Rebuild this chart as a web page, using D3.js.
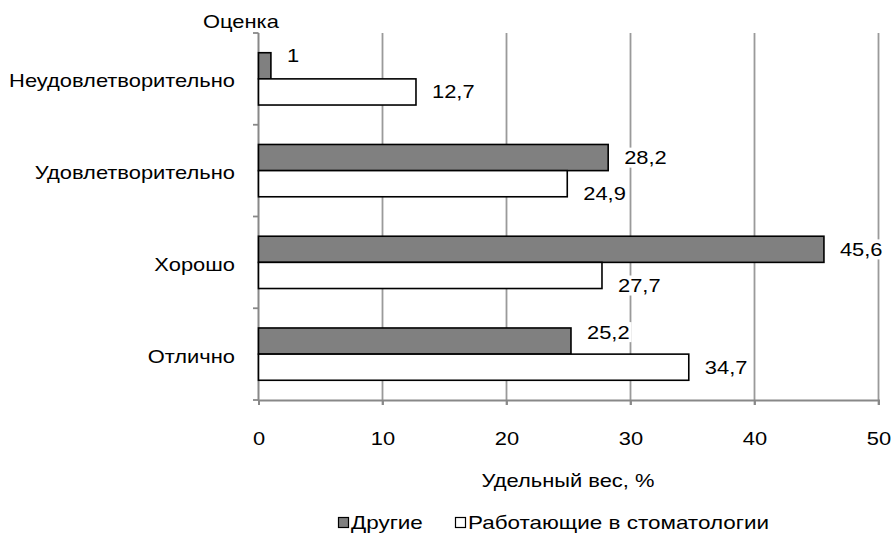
<!DOCTYPE html>
<html><head><meta charset="utf-8">
<script src="https://cdn.jsdelivr.net/npm/d3@7"></script>
<style>body{margin:0;background:#fff}svg{display:block}text{font-family:"Liberation Sans",Arial,sans-serif;fill:#000}</style>
</head><body><svg id="c" width="893" height="543"></svg>
<script>
const categories = ["Неудовлетворительно","Удовлетворительно","Хорошо","Отлично"];
const seriesNames = ["Другие","Работающие в стоматологии"];
const others = [1, 28.2, 45.6, 25.2];
const dental = [12.7, 24.9, 27.7, 34.7];
const xTicks = [0,10,20,30,40,50];
const labelShift = [[-10,0],[0,10],[0,10],[-9,0]]; // label nudges (px) per category [others, dental]

const svg = d3.select("#c");
const FS = 18.4, SX = 1.19;
const x = d3.scaleLinear().domain([0,50]).range([258.5,878.5]);
const y = d3.scaleBand().domain(categories).range([33,400]).paddingInner(0.43).paddingOuter(0.215);
const ySub = d3.scaleBand().domain([0,1]).range([0,y.bandwidth()]);
const fills = ["#808080","#ffffff"];

function txt(sel, px, py, sx){
  return sel.append("text").attr("transform",(d,i)=>`translate(${typeof px==="function"?px(d,i):px},${typeof py==="function"?py(d,i):py}) scale(${sx||SX},1)`)
    .attr("dy","0.35em").style("font-size",FS+"px");
}

// gridlines
svg.append("g").selectAll("line").data(xTicks.slice(1)).join("line")
  .attr("x1",d=>x(d)).attr("x2",d=>x(d)).attr("y1",33).attr("y2",405)
  .attr("stroke","#9a9a9a").attr("stroke-width",1.8);

// x axis
const gx = svg.append("g").attr("transform","translate(0,400)")
  .call(d3.axisBottom(x).tickValues(xTicks).tickSize(5).tickPadding(27).tickFormat(d3.format("d")));
gx.select(".domain").attr("stroke","#888").attr("stroke-width",2);
gx.selectAll(".tick line").attr("stroke","#888").attr("stroke-width",1.8);
gx.selectAll("text").style("font-size",FS+"px").attr("font-family","Liberation Sans, Arial, sans-serif")
  .attr("fill","#000").attr("transform",`scale(${SX},1)`);

// y axis
const gy = svg.append("g");
gy.append("line").attr("x1",258.5).attr("x2",258.5).attr("y1",33).attr("y2",401).attr("stroke","#888").attr("stroke-width",2);
const ticksY = d3.range(5).map(i=>d3.scaleLinear().domain([0,4]).range([33,400])(i));
gy.selectAll(".t").data(ticksY).join("line").attr("x1",253).attr("x2",258.5)
  .attr("y1",d=>d).attr("y2",d=>d).attr("stroke","#888").attr("stroke-width",1.8);
txt(gy.selectAll("g.cl").data(categories).join("g").attr("class","cl"), 235, d=>y(d)+y.bandwidth()/2+2)
  .attr("text-anchor","end").text(d=>d);

// bars
const data = [];
categories.forEach((c,i)=>{
  data.push({c,i,s:0,v:others[i]});
  data.push({c,i,s:1,v:dental[i]});
});
svg.append("g").selectAll("rect").data(data).join("rect")
  .attr("x",x(0)).attr("y",d=>y(d.c)+ySub(d.s))
  .attr("width",d=>x(d.v)-x(0)).attr("height",ySub.bandwidth())
  .attr("fill",d=>fills[d.s]).attr("stroke","#000").attr("stroke-width",1.6);

// value labels with white background
const fmt = v=>String(v).replace(".",",");
const lg = svg.append("g").selectAll("g").data(data).join("g")
  .attr("transform",d=>`translate(${x(d.v)+16},${y(d.c)+ySub(d.s)+ySub.bandwidth()/2+labelShift[d.i][d.s]})`);
lg.append("text").attr("dy","0.35em").attr("transform",`scale(${SX},1)`).style("font-size",FS+"px").text(d=>fmt(d.v))
  .each(function(){
    const b=this.getBBox();
    d3.select(this.parentNode).insert("rect","text").attr("x",b.x*SX-2).attr("y",b.y).attr("width",b.width*SX+4).attr("height",b.height).attr("fill","#fff");
  });

// titles
const tg = svg.append("g");
txt(tg.append("g"), 203, 22).text("Оценка");
txt(tg.append("g"), 568, 481).attr("text-anchor","middle").text("Удельный вес, %");

// legend
const legX = [338,455];
const lgd = svg.append("g").selectAll("g").data(seriesNames).join("g")
  .attr("transform",(d,i)=>`translate(${legX[i]},517)`);
lgd.append("rect").attr("x",0.5).attr("y",0.5).attr("width",10).attr("height",10).attr("fill",(d,i)=>fills[i]).attr("stroke","#000").attr("stroke-width",1.2);
txt(lgd, 13, 6, 1.22).text(d=>d);
</script></body></html>
